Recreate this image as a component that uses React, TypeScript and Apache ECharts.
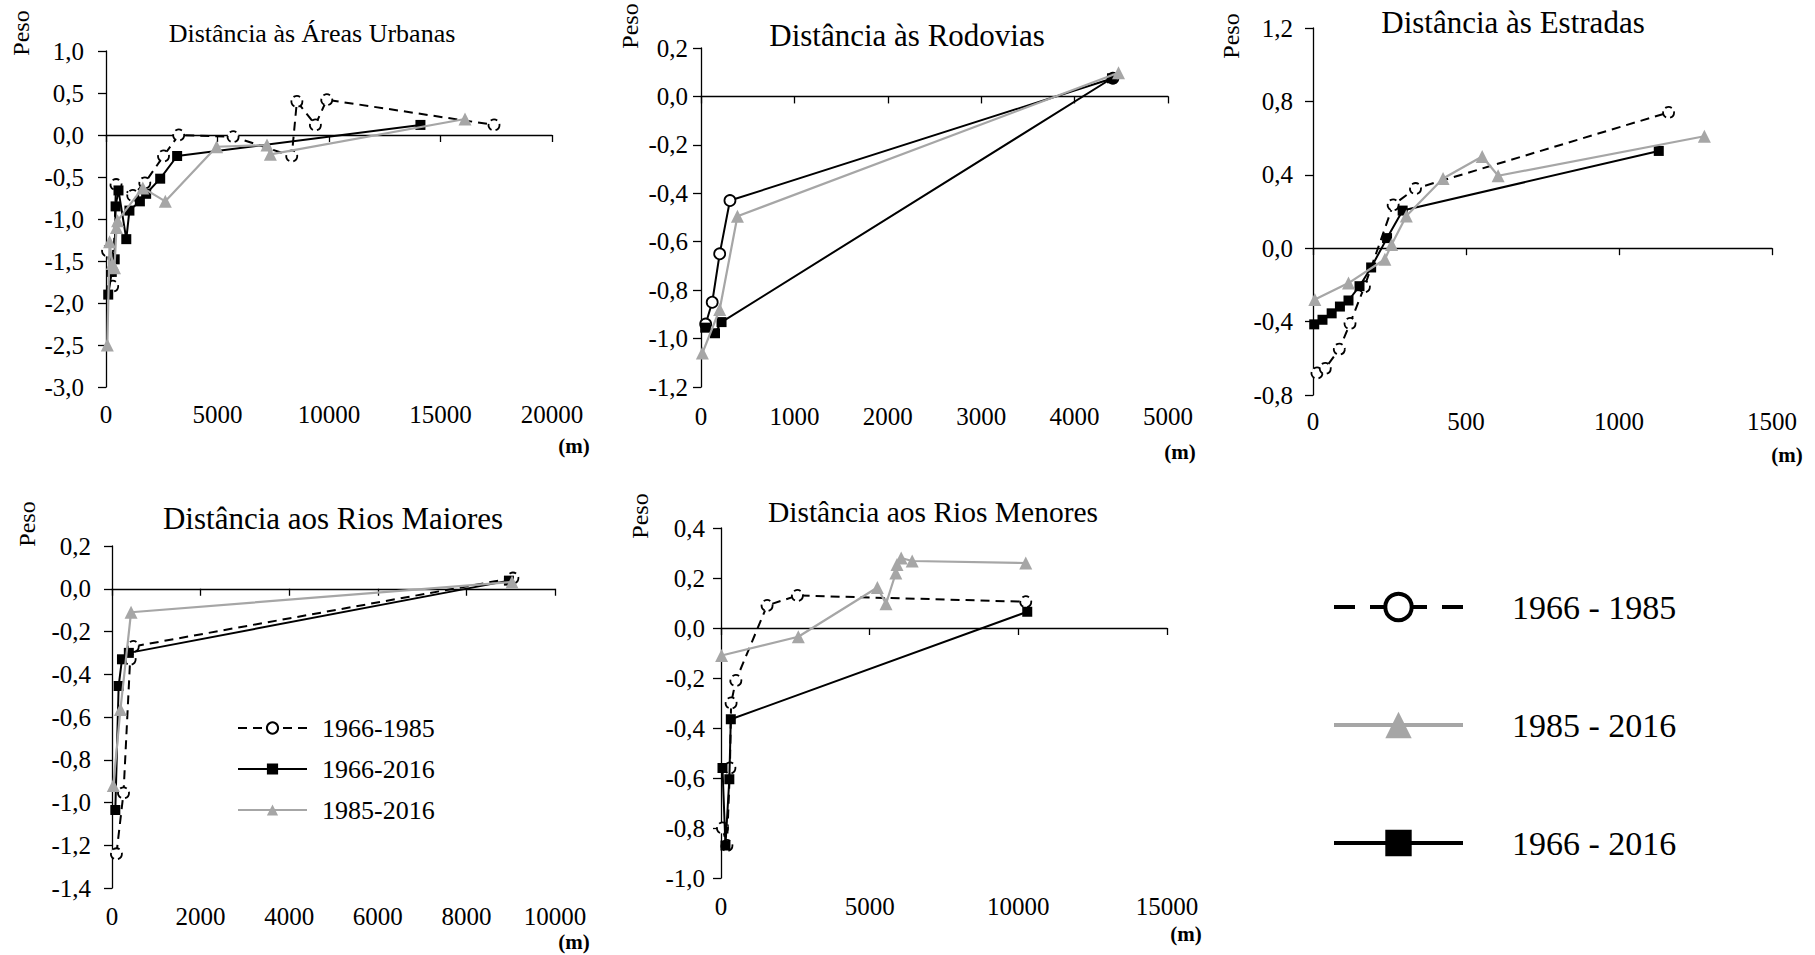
import React, { useEffect, useRef } from 'react';
import * as echarts from 'echarts';

const FONT = 'Liberation Serif';
const BLACK = '#000000';
const GRAY = '#a6a6a6';

// Distância às Áreas Urbanas
const urbX6685 = [70, 300, 450, 1200, 1740, 2580, 3260, 5700, 8330, 8560, 9390, 9900, 17400];
const urbY6685 = [-1.38, -1.8, -0.59, -0.72, -0.57, -0.25, 0.0, -0.02, -0.25, 0.4, 0.12, 0.42, 0.12];
const urbX6616 = [100, 260, 390, 430, 560, 910, 1050, 1520, 1800, 2430, 3190, 14100];
const urbY6616 = [-1.9, -1.63, -1.48, -0.85, -0.66, -1.24, -0.9, -0.79, -0.7, -0.52, -0.25, 0.12];
const urbX8516 = [60, 160, 280, 380, 470, 520, 1650, 2660, 4960, 7220, 7370, 16100];
const urbY8516 = [-2.5, -1.27, -1.53, -1.58, -1.1, -1.02, -0.63, -0.79, -0.14, -0.12, -0.23, 0.19];

// Distância às Rodovias
const rodX6685 = [50, 120, 200, 310, 4410];
const rodY6685 = [-0.94, -0.85, -0.65, -0.43, 0.075];
const rodX6616 = [45, 150, 220, 4400];
const rodY6616 = [-0.955, -0.978, -0.932, 0.075];
const rodX8516 = [15, 200, 390, 4470];
const rodY8516 = [-1.06, -0.88, -0.495, 0.098];

// Distância às Estradas
const estX6685 = [13, 40, 86, 121, 168, 262, 335, 1162];
const estY6685 = [-0.68, -0.655, -0.55, -0.41, -0.21, 0.236, 0.325, 0.74];
const estX6616 = [4, 31, 61, 88, 116, 152, 190, 242, 293, 1130];
const estY6616 = [-0.415, -0.39, -0.355, -0.318, -0.285, -0.207, -0.105, 0.055, 0.205, 0.53];
const estX8516 = [6, 116, 235, 257, 305, 425, 553, 605, 1279];
const estY8516 = [-0.28, -0.19, -0.06, 0.02, 0.175, 0.38, 0.5, 0.395, 0.61];

// Distância aos Rios Maiores
const rmaX6685 = [100, 260, 410, 480, 9050];
const rmaY6685 = [-1.24, -0.955, -0.33, -0.27, 0.05];
const rmaX6616 = [75, 150, 225, 380, 8960];
const rmaY6616 = [-1.035, -0.455, -0.33, -0.3, 0.038];
const rmaX8516 = [30, 190, 430, 9030];
const rmaY8516 = [-0.92, -0.565, -0.11, 0.032];

// Distância aos Rios Menores
const rmeX6685 = [50, 200, 300, 340, 500, 1550, 2570, 10250];
const rmeY6685 = [-0.8, -0.87, -0.56, -0.3, -0.21, 0.09, 0.13, 0.105];
const rmeX6616 = [50, 150, 280, 330, 10300];
const rmeY6616 = [-0.56, -0.87, -0.605, -0.365, 0.065];
const rmeX8516 = [20, 2600, 5260, 5550, 5880, 5920, 6060, 6430, 10250];
const rmeY8516 = [-0.11, -0.035, 0.162, 0.097, 0.22, 0.254, 0.28, 0.268, 0.26];

const titles = [
  'Distância às Áreas Urbanas',
  'Distância às Rodovias',
  'Distância às Estradas',
  'Distância aos Rios Maiores',
  'Distância aos Rios Menores',
];

const periodNames = ['1966 - 1985', '1985 - 2016', '1966 - 2016'];
const insetNames = ['1966-1985', '1966-2016', '1985-2016'];

// axis ranges per panel: [xMax, xStep, yMin, yMax, yStep]
const axisRanges: number[][] = [
  [20000, 5000, -3.0, 1.0, 0.5],
  [5000, 1000, -1.2, 0.2, 0.2],
  [1500, 500, -0.8, 1.2, 0.4],
  [10000, 2000, -1.4, 0.2, 0.2],
  [15000, 5000, -1.0, 0.4, 0.2],
];

// panel boxes in px: [left, top, width, height, yLabelMargin, xLabelMargin]
const panels: number[][] = [
  [106, 51, 446, 336, 22, 15],
  [701, 48, 467, 339, 13, 17],
  [1313, 28, 459, 367, 20, 14],
  [112, 546, 443, 342, 21, 16],
  [721, 528, 446, 350, 16, 16],
];

const fmtY = (v: number) => (Math.abs(v) < 1e-9 ? 0 : v).toFixed(1).replace('.', ',');

const pairs = (xs: number[], ys: number[]) => xs.map((x, i) => [x, ys[i]]);

function dashedSeries(name: string, panel: number, xs: number[], ys: number[]) {
  return {
    type: 'line',
    name,
    xAxisIndex: panel * 2 + 1,
    yAxisIndex: panel,
    data: pairs(xs, ys),
    symbol: 'circle',
    symbolSize: 11,
    lineStyle: { color: BLACK, width: 2, type: [9, 6] },
    itemStyle: { color: '#ffffff', borderColor: BLACK, borderWidth: 1.8, borderType: [7, 4] },
    z: 2,
  };
}

function circleSolidSeries(name: string, panel: number, xs: number[], ys: number[]) {
  return {
    type: 'line',
    name,
    xAxisIndex: panel * 2 + 1,
    yAxisIndex: panel,
    data: pairs(xs, ys),
    symbol: 'circle',
    symbolSize: 11,
    lineStyle: { color: BLACK, width: 2, type: 'solid' },
    itemStyle: { color: '#ffffff', borderColor: BLACK, borderWidth: 1.8 },
    z: 2,
  };
}

function squareSeries(name: string, panel: number, xs: number[], ys: number[]) {
  return {
    type: 'line',
    name,
    xAxisIndex: panel * 2 + 1,
    yAxisIndex: panel,
    data: pairs(xs, ys),
    symbol: 'rect',
    symbolSize: 10,
    lineStyle: { color: BLACK, width: 2 },
    itemStyle: { color: BLACK, borderWidth: 0 },
    z: 3,
  };
}

function triangleSeries(name: string, panel: number, xs: number[], ys: number[]) {
  return {
    type: 'line',
    name,
    xAxisIndex: panel * 2 + 1,
    yAxisIndex: panel,
    data: pairs(xs, ys),
    symbol: 'triangle',
    symbolSize: 13,
    lineStyle: { color: GRAY, width: 2.2 },
    itemStyle: { color: GRAY, borderWidth: 0 },
    z: 4,
  };
}

function buildAxes() {
  const xAxis: any[] = [];
  const yAxis: any[] = [];
  axisRanges.forEach(([xMax, xStep, yMin, yMax, yStep], i) => {
    const [, , , , yMargin, xMargin] = panels[i];
    // zero line with its ticks
    xAxis.push({
      type: 'value',
      gridIndex: i,
      position: 'top',
      min: 0,
      max: xMax,
      interval: xStep,
      axisLine: { show: true, onZero: true, lineStyle: { color: BLACK, width: 1.3 } },
      axisTick: { show: true, inside: true, length: 7, lineStyle: { color: BLACK, width: 1.3 } },
      axisLabel: { show: false },
      splitLine: { show: false },
    });
    // distance labels along the bottom
    xAxis.push({
      type: 'value',
      gridIndex: i,
      position: 'bottom',
      min: 0,
      max: xMax,
      interval: xStep,
      axisLine: { show: false, onZero: false },
      axisTick: { show: false },
      axisLabel: {
        show: true,
        margin: xMargin,
        formatter: (v: number) => String(Math.round(v)),
        fontFamily: FONT,
        fontSize: 25,
        color: BLACK,
      },
      splitLine: { show: false },
    });
    yAxis.push({
      type: 'value',
      gridIndex: i,
      position: 'left',
      min: yMin,
      max: yMax,
      interval: yStep,
      axisLine: { show: true, onZero: false, lineStyle: { color: BLACK, width: 1.3 } },
      axisTick: { show: true, length: 8, lineStyle: { color: BLACK, width: 1.3 } },
      axisLabel: {
        margin: yMargin,
        formatter: fmtY,
        fontFamily: FONT,
        fontSize: 25,
        color: BLACK,
      },
      splitLine: { show: false },
    });
  });
  return { xAxis, yAxis };
}

function text(x: number, y: number, str: string, size: number, extra: any = {}) {
  return {
    type: 'text',
    x,
    y,
    rotation: extra.rotation || 0,
    style: {
      text: str,
      fontFamily: FONT,
      fontSize: size,
      fontWeight: extra.bold ? 'bold' : 'normal',
      fill: BLACK,
      align: 'center',
      verticalAlign: 'middle',
      textAlign: 'center',
      textVerticalAlign: 'middle',
    },
    silent: true,
  };
}

export default function App() {
  const ref = useRef<HTMLDivElement>(null);

  useEffect(() => {
    if (!ref.current) return;
    const chart = echarts.init(ref.current, undefined, { renderer: 'svg' });
    const { xAxis, yAxis } = buildAxes();

    const series: any[] = [
      dashedSeries(periodNames[0], 0, urbX6685, urbY6685),
      squareSeries(periodNames[2], 0, urbX6616, urbY6616),
      triangleSeries(periodNames[1], 0, urbX8516, urbY8516),

      circleSolidSeries(periodNames[0], 1, rodX6685, rodY6685),
      squareSeries(periodNames[2], 1, rodX6616, rodY6616),
      triangleSeries(periodNames[1], 1, rodX8516, rodY8516),

      dashedSeries(periodNames[0], 2, estX6685, estY6685),
      squareSeries(periodNames[2], 2, estX6616, estY6616),
      triangleSeries(periodNames[1], 2, estX8516, estY8516),

      dashedSeries(insetNames[0], 3, rmaX6685, rmaY6685),
      squareSeries(insetNames[1], 3, rmaX6616, rmaY6616),
      triangleSeries(insetNames[2], 3, rmaX8516, rmaY8516),

      dashedSeries(periodNames[0], 4, rmeX6685, rmeY6685),
      squareSeries(periodNames[2], 4, rmeX6616, rmeY6616),
      triangleSeries(periodNames[1], 4, rmeX8516, rmeY8516),
    ];

    const titlePos = [
      [312, 33, 26],
      [907, 35, 31],
      [1513, 22, 31],
      [333, 518, 31],
      [933, 512, 29.5],
    ];
    const pesoPos = [
      [21, 33],
      [630, 26],
      [1231, 36],
      [27, 524],
      [640, 516],
    ];
    const unitPos = [
      [574, 446],
      [1180, 452],
      [1787, 455],
      [574, 942],
      [1186, 934],
    ];

    const graphics: any[] = [];
    titles.forEach((t, i) => graphics.push(text(titlePos[i][0], titlePos[i][1], t, titlePos[i][2])));
    pesoPos.forEach(([x, y]) => graphics.push(text(x, y, 'Peso', 24, { rotation: Math.PI / 2 })));
    unitPos.forEach(([x, y]) => graphics.push(text(x, y, '(m)', 21, { bold: true })));

    chart.setOption({
      animation: false,
      backgroundColor: '#ffffff',
      grid: panels.map(([left, top, width, height]) => ({ left, top, width, height, containLabel: false })),
      xAxis,
      yAxis,
      series,
      legend: [
        {
          orient: 'vertical',
          left: 1332,
          top: 590,
          padding: 0,
          itemWidth: 129,
          itemHeight: 33,
          itemGap: 84,
          selectedMode: false,
          textStyle: { fontFamily: FONT, fontSize: 34, lineHeight: 34, color: BLACK, padding: [0, 0, 0, 44] },
          data: [
            {
              name: periodNames[0],
              lineStyle: { color: BLACK, width: 4, type: [21, 15] },
              itemStyle: { color: '#ffffff', borderColor: BLACK, borderWidth: 4, borderType: 'solid' },
            },
            {
              name: periodNames[1],
              lineStyle: { color: GRAY, width: 4 },
              itemStyle: { color: GRAY, borderWidth: 0 },
            },
            {
              name: periodNames[2],
              lineStyle: { color: BLACK, width: 4 },
              itemStyle: { color: BLACK, borderWidth: 0 },
            },
          ],
        },
        {
          orient: 'vertical',
          left: 237,
          top: 715,
          padding: 0,
          itemWidth: 69,
          itemHeight: 14,
          itemGap: 15,
          selectedMode: false,
          textStyle: { fontFamily: FONT, fontSize: 26, lineHeight: 26, color: BLACK, padding: [0, 0, 0, 10] },
          data: insetNames,
        },
      ],
      graphic: graphics,
    });

    return () => chart.dispose();
  }, []);

  return (
    <div
      ref={ref}
      style={{ position: 'fixed', left: 0, top: 0, width: 1815, height: 955, background: '#ffffff' }}
    />
  );
}
